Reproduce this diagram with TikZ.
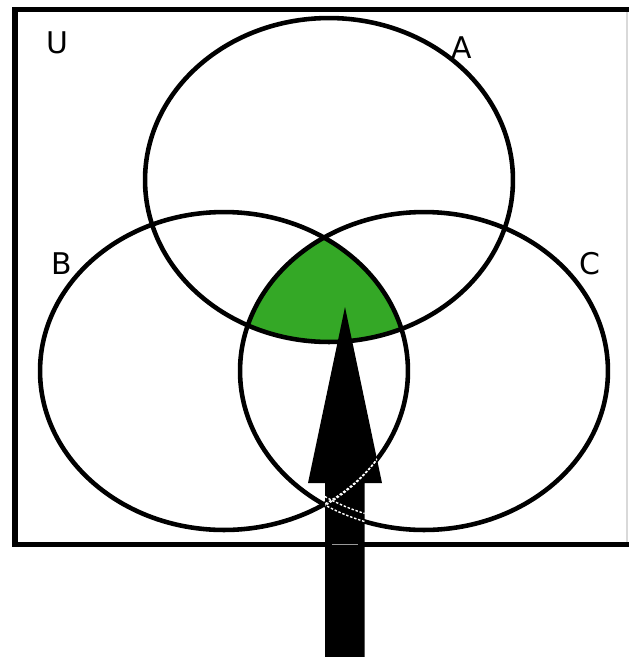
\documentclass[tikz,border=0pt]{standalone}
\usepackage{fontspec}
\newfontfamily\labfont{DejaVu Sans}
\definecolor{vgreen}{RGB}{52,168,38}
\tikzset{
  setline/.style={draw=black, line width=2.6pt},
  lbl/.style={font=\labfont\fontsize{17}{20}\selectfont, inner sep=0pt},
  ghost/.style={draw=white, line width=0.8pt, dash pattern=on 1.4pt off 1pt},
}
\begin{document}
\begin{tikzpicture}[x=0.02cm,y=-0.02cm]
\useasboundingbox[fill=white] (0,0) rectangle (629,657);
% universe rectangle
\draw[draw=black!15, line width=0.6pt] (627,9.5) -- (627,544.5);
\draw[line width=2.9pt, line cap=rect] (627,9.5) -- (15,9.5) -- (15,544.5) -- (627,544.5);
% intersection shading
\begin{scope}
  \clip (329,180) ellipse [x radius=3.68cm, y radius=3.24cm];
  \clip (224,371) ellipse [x radius=3.68cm, y radius=3.18cm];
  \fill[vgreen] (424,371) ellipse [x radius=3.68cm, y radius=3.18cm];
\end{scope}
% sets
\draw[setline] (329,180) ellipse [x radius=3.68cm, y radius=3.24cm];
\draw[setline] (224,371) ellipse [x radius=3.68cm, y radius=3.18cm];
\draw[setline] (424,371) ellipse [x radius=3.68cm, y radius=3.18cm];
% labels
\node[lbl] (u) at (57.5,43) {U};
\node[lbl] (a) at (462,48) {A};
\node[lbl] (b) at (62,264) {B};
\node[lbl] (c) at (590,264) {C};
% big arrow
\fill[black, line join=round] (345,307) -- (382,483) -- (364.5,483) -- (364.5,657) -- (325,657) -- (325,483) -- (308,483) -- cycle;
\begin{scope}
  \clip (345,307) -- (382,483) -- (364.5,483) -- (364.5,657) -- (325,657) -- (325,483) -- (308,483) -- cycle;
  \draw[ghost] (224,371) ellipse [x radius=3.68cm, y radius=3.18cm];
  \draw[ghost] (224,376) ellipse [x radius=3.62cm, y radius=3.12cm];
  \draw[ghost] (424,371) ellipse [x radius=3.68cm, y radius=3.18cm];
  \draw[ghost] (424,366) ellipse [x radius=3.62cm, y radius=3.12cm];
  \draw[draw=black!40, line width=0.6pt] (332,544.5) -- (358,544.5);
\end{scope}
\end{tikzpicture}
\end{document}
